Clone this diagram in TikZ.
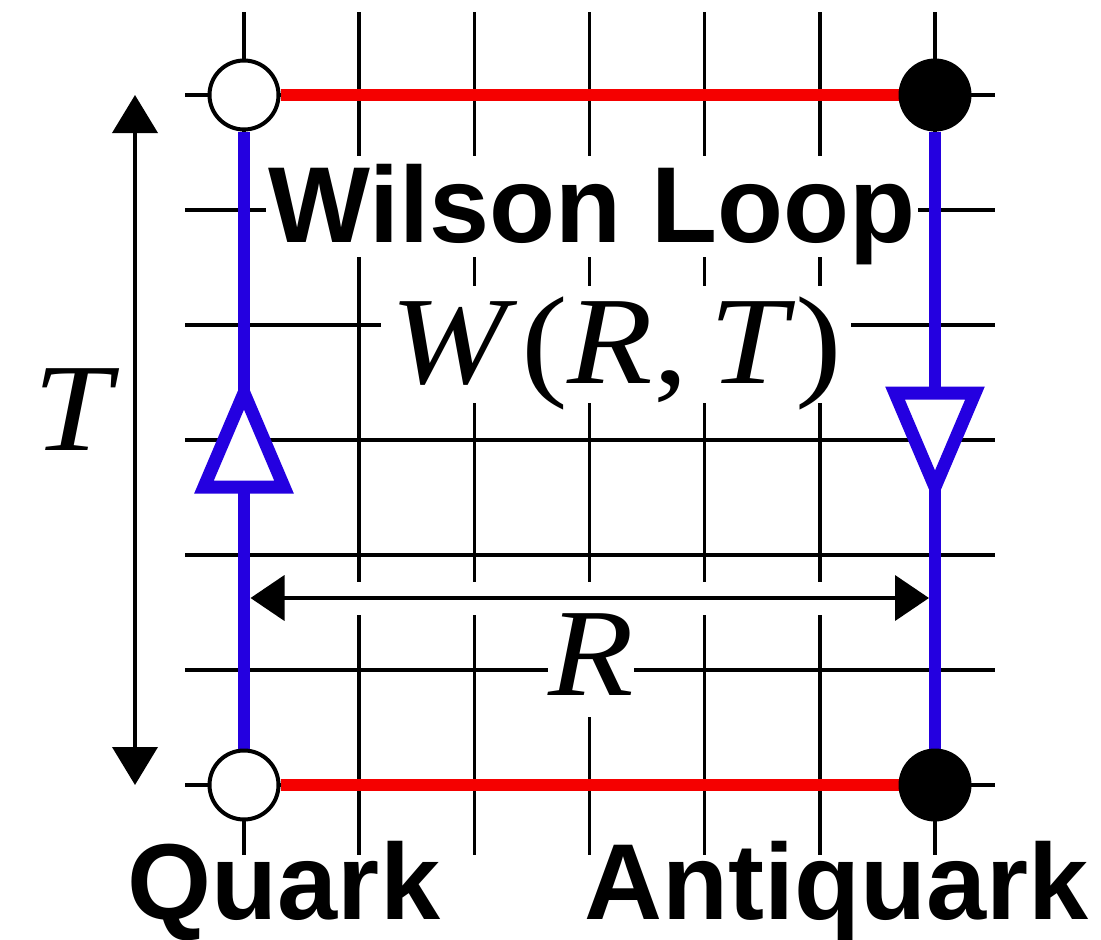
\documentclass[tikz,border=0pt]{standalone}
\usepackage{fontspec}
\setmainfont{Liberation Sans}
\newfontfamily\mathserif[FakeStretch=1.12]{Liberation Serif}
\usetikzlibrary{arrows.meta,calc,backgrounds}
\definecolor{qblue}{RGB}{36,0,224}
\definecolor{qred}{RGB}{245,0,0}
\begin{document}
\begin{tikzpicture}[x=1pt,y=-1pt,
  gridline/.style={line width=3.5pt, black},
  bline/.style={line width=12.5pt, qblue},
  rline/.style={line width=12.5pt, qred},
  quark/.style={circle, draw=black, line width=4pt, fill=white, minimum size=69pt, inner sep=0pt},
  antiquark/.style={quark, fill=black},
  boldlabel/.style={font=\fontsize{108}{108}\selectfont\bfseries},
  mathlabel/.style={font=\mathserif\fontsize{125}{125}\selectfont},
  whitebox/.style={fill=white, inner sep=0pt},
  dimarrow/.style={line width=4pt},
  dirmark/.style={line width=13pt, draw=qblue, fill=white, line join=miter}
]
\useasboundingbox (0,0) rectangle (1101,940);
% quark / antiquark nodes
\node[quark] (q1) at (244,785) {};
\node[quark] (q2) at (244,95) {};
\node[antiquark] (a1) at (935,95) {};
\node[antiquark] (a2) at (935,785) {};
\begin{pgfonlayer}{background}
  % lattice
  \foreach \i in {0,...,6} {
    \draw[gridline] ({244+115.17*\i},12) -- ({244+115.17*\i},855);
    \draw[gridline] (185,{95+115*\i}) -- (995,{95+115*\i});
  }
  % R dimension band
  \coordinate (rL) at (250.5,598);
  \coordinate (rR) at (929,598);
  \draw[white, line width=33pt] (rL) -- (rR);
  % labels
  \node[boldlabel, whitebox, inner xsep=3pt, text height=86pt, text depth=15pt, anchor=base] (wl) at (592,242) {Wilson Loop};
  \node[mathlabel, whitebox, minimum width=470pt, text height=97pt, text depth=20pt, anchor=base] (wrt) at (616,383) {\itshape W\/\kern4pt\upshape(\itshape R\upshape,\,\itshape T\/\upshape)};
  \node[mathlabel, whitebox, minimum width=76pt, text height=80pt, text depth=22pt, anchor=base] (rlab) at (591,695) {\itshape R};
  \node[mathlabel, anchor=base] (tlab) at (72,450) {\itshape T};
  \node[boldlabel, anchor=base] (qlab) at (284,919) {Quark};
  \node[boldlabel, anchor=base] (alab) at (837,919) {Antiquark};
  % loop
  \draw[rline] (q2) -- (a1);
  \draw[rline] (q1) -- (a2);
  \draw[bline] (q1) -- (q2);
  \draw[bline] (a1) -- (a2);
  \coordinate (mL) at ($(q1)!0.5!(q2)$);
  \coordinate (mR) at ($(a1)!0.5!(a2)$);
  \draw[dirmark] (mL) ++(0,-47) -- ++(40,94) -- ++(-80,0) -- cycle;
  \draw[dirmark] (mR) ++(0,47) -- ++(40,-94) -- ++(-80,0) -- cycle;
  % dimension arrows
  \coordinate (tT) at (135,95);
  \coordinate (tB) at (135,785);
  \draw[dimarrow, {Triangle[length=38pt,width=45pt]}-{Triangle[length=38pt,width=45pt]}] (tB) -- (tT);
  \draw[dimarrow, {Triangle[length=34pt,width=45pt]}-{Triangle[length=34pt,width=45pt]}] (rL) -- (rR);
\end{pgfonlayer}
\end{tikzpicture}
\end{document}
